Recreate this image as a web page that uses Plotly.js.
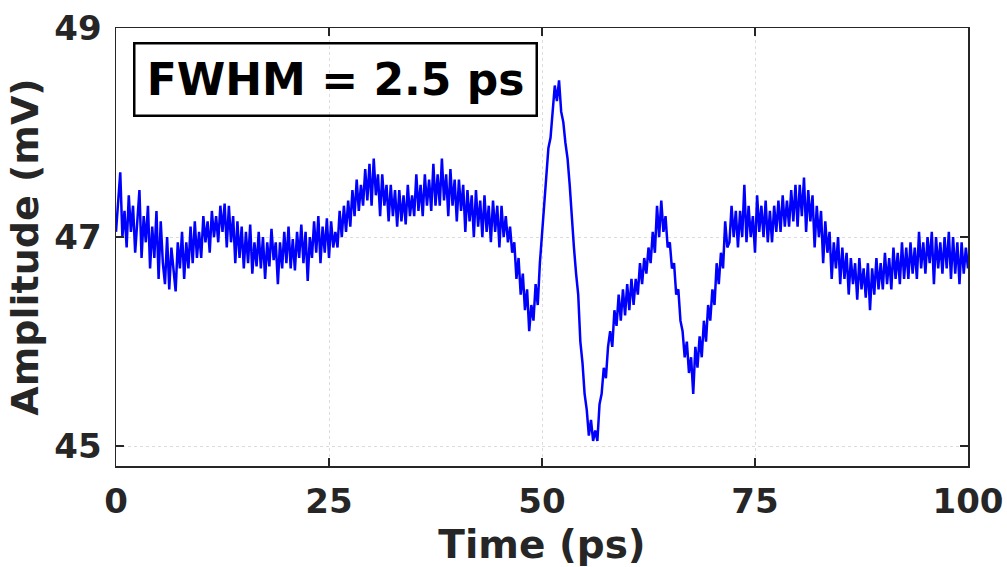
<!DOCTYPE html>
<html>
<head>
<meta charset="utf-8">
<script src="https://cdn.plot.ly/plotly-3.0.1.min.js"></script>
<style>
html,body{margin:0;padding:0;background:#fff;}
#chart{width:1007px;height:567px;}
</style>
</head>
<body>
<div id="chart"></div>
<script>
// Time axis: samples every 0.25 ps starting at 0 ps
var timeStart = 0;
var timeStep = 0.25;
var xTickVals = [0, 25, 50, 75, 100];
var xTickText = ["0", "25", "50", "75", "100"];
var yTickVals = [45, 47, 49];
var yTickText = ["45", "47", "49"];
var annotationText = "FWHM = 2.5 ps";

// Amplitude (mV)
var amplitude = [
47.05, 47.35, 47.62, 47.0, 47.25, 46.9, 47.4, 47.05, 47.3, 46.85, 47.15, 47.45, 46.8, 47.2, 46.95, 47.3, 46.7, 47.1, 46.8, 47.25,
46.6, 47.15, 46.75, 46.55, 47.0, 46.5, 46.9, 46.65, 46.48, 46.95, 46.7, 47.05, 46.6, 46.95, 46.7, 47.1, 46.75, 47.15, 46.8, 47.05,
46.8, 47.2, 46.95, 47.15, 46.85, 47.25, 47.0, 47.2, 46.95, 47.3, 47.05, 47.32, 46.9, 47.3, 46.95, 47.2, 46.75, 47.15, 46.8, 47.1,
46.7, 47.05, 46.75, 47.12, 46.65, 46.95, 46.72, 47.05, 46.7, 47.0, 46.6, 46.95, 46.72, 47.08, 46.78, 46.95, 46.55, 46.95, 46.7, 47.05,
46.75, 47.1, 46.7, 46.98, 46.68, 47.05, 46.8, 47.12, 46.75, 47.05, 46.58, 47.0, 46.8, 47.15, 46.85, 47.2, 46.75, 47.1, 46.85, 47.18,
46.8, 47.15, 46.9, 47.05, 46.9, 47.25, 47.0, 47.3, 47.05, 47.35, 47.1, 47.45, 47.2, 47.55, 47.25, 47.5, 47.3, 47.65, 47.35, 47.7,
47.3, 47.75, 47.4, 47.6, 47.2, 47.6, 47.3, 47.5, 47.15, 47.5, 47.2, 47.45, 47.1, 47.45, 47.15, 47.4, 47.12, 47.5, 47.2, 47.4,
47.2, 47.6, 47.25, 47.5, 47.2, 47.6, 47.3, 47.55, 47.25, 47.7, 47.3, 47.6, 47.3, 47.75, 47.35, 47.6, 47.2, 47.65, 47.3, 47.55,
47.15, 47.55, 47.25, 47.5, 47.05, 47.45, 47.15, 47.4, 47.0, 47.45, 47.1, 47.35, 47.0, 47.4, 47.05, 47.3, 46.95, 47.35, 47.05, 47.3,
46.9, 47.3, 47.0, 47.2, 46.95, 47.1, 46.85, 46.95, 46.6, 46.8, 46.45, 46.65, 46.3, 46.5, 46.1, 46.35, 46.2, 46.55, 46.35, 46.75,
47.05, 47.3, 47.6, 47.85, 47.95, 48.2, 48.45, 48.3, 48.5, 48.2, 48.1, 47.9, 47.75, 47.5, 47.15, 46.9, 46.65, 46.45, 46.0, 45.8,
45.5, 45.35, 45.1, 45.25, 45.05, 45.15, 45.05, 45.4, 45.5, 45.75, 45.65, 45.95, 46.1, 45.95, 46.3, 46.15, 46.45, 46.2, 46.5, 46.25,
46.55, 46.3, 46.6, 46.35, 46.6, 46.45, 46.75, 46.55, 46.8, 46.65, 46.9, 46.75, 47.05, 46.85, 47.3, 47.0, 47.35, 47.05, 47.2, 46.9,
46.95, 46.7, 46.75, 46.45, 46.5, 46.2, 46.1, 45.85, 46.0, 45.7, 45.85, 45.5, 45.95, 45.75, 46.05, 45.85, 46.2, 46.0, 46.35, 46.2,
46.5, 46.35, 46.75, 46.55, 46.85, 46.7, 47.15, 46.9, 46.95, 47.3, 47.0, 47.25, 46.9, 47.25, 47.0, 47.5, 46.95, 47.3, 47.0, 47.2,
46.85, 47.4, 47.05, 47.3, 47.0, 47.35, 46.95, 47.25, 46.95, 47.3, 47.05, 47.35, 47.05, 47.4, 47.1, 47.35, 47.1, 47.45, 47.15, 47.5,
47.1, 47.5, 47.2, 47.57, 47.05, 47.45, 47.15, 47.4, 46.9, 47.3, 47.0, 47.25, 46.75, 47.15, 46.85, 47.05, 46.6, 46.95, 46.7, 47.0,
46.55, 46.9, 46.6, 46.85, 46.45, 46.8, 46.55, 46.75, 46.4, 46.8, 46.5, 46.7, 46.42, 46.75, 46.3, 46.7, 46.45, 46.8, 46.5, 46.75,
46.5, 46.85, 46.55, 46.8, 46.5, 46.9, 46.6, 46.85, 46.55, 46.95, 46.6, 46.9, 46.6, 46.95, 46.65, 46.9, 46.6, 47.05, 46.7, 46.95,
46.65, 47.0, 46.75, 47.05, 46.55, 47.0, 46.7, 46.95, 46.65, 47.0, 46.7, 47.05, 46.6, 47.0, 46.65, 46.95, 46.55, 46.95, 46.65, 46.9,
46.7
];

var FONT = "DejaVu Sans, sans-serif";
var TXT = "#262626";

var trace = {
  type: "scatter",
  mode: "lines",
  x0: timeStart,
  dx: timeStep,
  y: amplitude,
  line: {color: "#0000ff", width: 2.5},
  hoverinfo: "skip"
};

var axisCommon = {
  showline: true,
  linecolor: TXT,
  linewidth: 1.5,
  mirror: "allticks",
  ticks: "inside",
  ticklen: 8,
  tickwidth: 1.5,
  tickcolor: TXT,
  showgrid: true,
  gridcolor: "#dcdcdc",
  gridwidth: 1,
  griddash: "3px,3px",
  zeroline: false,
  tickfont: {family: FONT, size: 34, color: TXT, weight: "bold"}
};

var layout = {
  width: 1007,
  height: 567,
  margin: {l: 116, r: 39, t: 28, b: 101},
  paper_bgcolor: "#ffffff",
  plot_bgcolor: "#ffffff",
  showlegend: false,
  xaxis: Object.assign({}, axisCommon, {
    range: [0, 100],
    tickmode: "array",
    tickvals: xTickVals,
    ticktext: xTickText,
    ticklabelstandoff: 5,
    title: {text: "Time (ps)", font: {family: FONT, size: 39, color: TXT, weight: "bold"}, standoff: 16}
  }),
  yaxis: Object.assign({}, axisCommon, {
    range: [44.81, 49],
    tickmode: "array",
    tickvals: yTickVals,
    ticktext: yTickText,
    ticklabelstandoff: 6,
    title: {text: "Amplitude (mV)", font: {family: FONT, size: 38, color: TXT, weight: "bold"}, standoff: 4}
  }),
  annotations: [{
    xref: "paper", yref: "paper",
    x: 0.02, y: 0.968,
    xanchor: "left", yanchor: "top",
    text: annotationText,
    showarrow: false,
    font: {family: FONT, size: 44, color: "#000000", weight: "bold"},
    bordercolor: "#000000",
    borderwidth: 2.5,
    borderpad: 6,
    width: 388,
    height: 58,
    align: "center"
  }]
};

Plotly.newPlot("chart", [trace], layout, {staticPlot: true, displayModeBar: false});
</script>
</body>
</html>
